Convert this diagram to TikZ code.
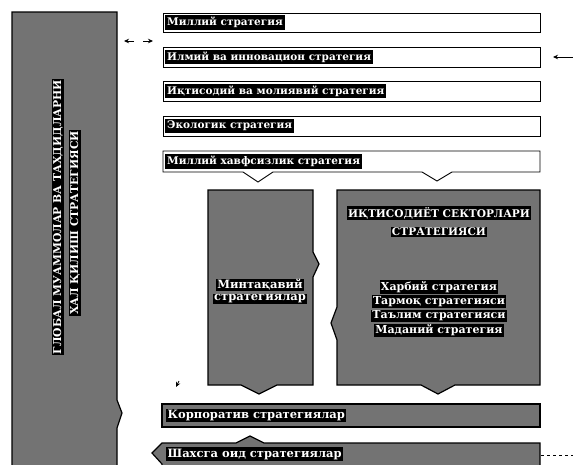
\documentclass[tikz,border=0pt]{standalone}
\usepackage{fontspec}
\setmainfont{DejaVu Serif}
\usetikzlibrary{arrows.meta}

\begin{document}
\begin{tikzpicture}[x=1pt, y=-1pt,
  panel/.style={draw=black, line width=1.2pt, fill=black!55},
  whitebox/.style={draw=black, line width=0.9pt, fill=white},
  tag/.style={fill=black, text=white, inner sep=2pt, anchor=west, font=\bfseries\fontsize{10.5}{12}\selectfont},
  hl/.style={fill=black, text=white, inner sep=1pt, font=\bfseries\fontsize{11}{12}\selectfont},
  tip/.style={-{Stealth[length=5pt,width=4.5pt]}, line width=0.8pt}]
  \clip (0,0) rectangle (573,464);

  % left column
  \draw[panel] (12,470) -- (12,12) -- (117,12) -- (117,400) -- (122,413) -- (117,428) -- (117,470) -- cycle;
  \node[hl, rotate=90, font=\bfseries\fontsize{10.8}{12}\selectfont] (glob1) at (58,217) {ГЛОБАЛ МУАММОЛАР ВА ТАХДИДЛАРНИ};
  \node[hl, rotate=90, font=\bfseries\fontsize{10.8}{12}\selectfont] (glob2) at (75,223) {ХАЛ ҚИЛИШ СТРАТЕГИЯСИ};

  % national level
  \draw[whitebox] (163,13) rectangle (540,32);
  \node[tag] (milliy) at (165,22.5) {Миллий стратегия};
  \draw[whitebox] (163,47) rectangle (540,67);
  \node[tag] (ilmiy) at (165,57) {Илмий ва инновацион стратегия};
  \draw[whitebox] (163,81) rectangle (540,101);
  \node[tag] (iqtisodiy) at (165,91) {Иқтисодий ва молиявий стратегия};
  \draw[whitebox] (163,116) rectangle (540,136);
  \node[tag] (ekolog) at (165,126) {Экологик стратегия};
  \draw[whitebox] (163,151) -- (540,151) -- (540,172) -- (452,172) -- (437,181) -- (422,172)
    -- (273,172) -- (258,182) -- (243,172) -- (163,172) -- cycle;
  \node[tag] (xavfsiz) at (165,161.5) {Миллий хавфсизлик стратегия};

  % regions and sectors
  \draw[panel] (208,190) -- (313,190) -- (313,252) -- (319,264) -- (313,277) -- (313,385)
    -- (277,385) -- (259,394) -- (241,385) -- (208,385) -- cycle;
  \node[hl, font=\bfseries\fontsize{11.5}{12}\selectfont] (mintaqa1) at (260,285) {Минтақавий};
  \node[hl, font=\bfseries\fontsize{11.5}{12}\selectfont] (mintaqa2) at (260,299) {стратегиялар};

  \draw[panel] (337,190) -- (540,190) -- (540,385) -- (455,385) -- (438,394) -- (421,385)
    -- (337,385) -- (337,340) -- (331,323) -- (337,307) -- cycle;
  \node[hl, font=\bfseries\fontsize{10.6}{12}\selectfont] (sektor1) at (439,213) {ИҚТИСОДИЁТ СЕКТОРЛАРИ};
  \node[hl, font=\bfseries\fontsize{10.6}{12}\selectfont] (sektor2) at (439,232) {СТРАТЕГИЯСИ};
  \node[hl] (harbiy) at (439,287) {Харбий стратегия};
  \node[hl] (tarmoq) at (439,301.5) {Тармоқ стратегияси};
  \node[hl] (talim) at (439,316) {Таълим стратегияси};
  \node[hl] (madaniy) at (439,330.5) {Маданий стратегия};

  % lower levels
  \draw[panel] (162,404) rectangle (540,427);
  \node[hl, anchor=west, inner sep=1.5pt, font=\bfseries\fontsize{11.5}{12}\selectfont] (korp) at (166,415.5) {Корпоратив стратегиялар};
  \draw[panel] (162,443) -- (236,443) -- (250,436) -- (264,443) -- (540,443) -- (540,470)
    -- (162,470) -- (162,464) -- (152,453) -- cycle;
  \node[hl, anchor=west, inner sep=1.5pt, font=\bfseries\fontsize{11.5}{12}\selectfont] (shaxs) at (166,454) {Шахсга оид стратегиялар};

  % stray marks
  \coordinate (l1) at (134,41); \coordinate (l1t) at (124,41);
  \coordinate (r1) at (143,41); \coordinate (r1t) at (153,41);
  \draw[tip] (l1) -- (l1t);
  \draw[tip] (r1) -- (r1t);
  \coordinate (rin) at (573,57); \coordinate (rint) at (553,57);
  \draw[tip] (rin) -- (rint);
  \coordinate (dn) at (179,381); \coordinate (dnt) at (176,387);
  \draw[tip] (dn) -- (dnt);
  \coordinate (sE) at (541,455); \coordinate (rE) at (573,455);
  \draw[dashed, line width=0.8pt] (sE) -- (rE);
\end{tikzpicture}
\end{document}
